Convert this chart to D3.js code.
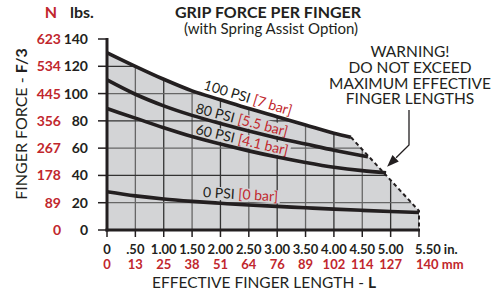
<!DOCTYPE html>
<html>
<head>
<meta charset="utf-8">
<script src="https://cdn.jsdelivr.net/npm/d3@7"></script>
<style>
  body { margin: 0; background: #fff; }
  svg { display: block; font-family: Lato, "Open Sans", sans-serif; }
</style>
</head>
<body>
<svg id="chart" width="494" height="290"></svg>
<script>
// axis ticks and labels
const inchTicks = [0, .5, 1, 1.5, 2, 2.5, 3, 3.5, 4, 4.5, 5, 5.5];
const inchLabels = ["0", ".50", "1.00", "1.50", "2.00", "2.50", "3.00", "3.50", "4.00", "4.50", "5.00", "5.50 in."];
const mmLabels = ["0", "13", "25", "38", "51", "64", "76", "89", "102", "114", "127", "140 mm"];
const lbsTicks = [0, 20, 40, 60, 80, 100, 120, 140];
const newtonLabels = ["0", "89", "178", "267", "356", "445", "534", "623"];

// curves (inches -> lbs)
const psi100X = [0, .5, 1, 1.5, 2, 2.5, 3, 3.5, 4, 4.3];
const psi100Y = [130, 120, 110.5, 102, 95.5, 89, 83, 77, 71, 68];
const psi80X = [0, .5, 1, 1.5, 2, 2.5, 3, 3.5, 4, 4.6];
const psi80Y = [110, 99.5, 91, 84, 78, 72.5, 67.5, 63, 58.5, 53.7];
const psi60X = [0, .5, 1, 1.5, 2, 2.5, 3, 3.5, 4, 4.5, 4.92];
const psi60Y = [89, 82, 75, 68.5, 63, 58, 53.5, 49.5, 46, 43.5, 42];
const psi0X = [0, .5, 1, 1.5, 2, 2.5, 3, 3.5, 4, 4.5, 5, 5.5];
const psi0Y = [28, 25, 22.7, 21, 19.6, 18.3, 17.3, 16.3, 15.3, 14.4, 13.6, 12.8];

// max effective finger length boundary
const limitX = [4.3, 5.5, 5.5];
const limitY = [68, 14, 0];

const seriesNames = ["100 PSI ", "80 PSI ", "60 PSI ", "0 PSI "];
const seriesBars = ["[7 bar]", "[5.5 bar]", "[4.1 bar]", "[0 bar]"];
const labelAt = [1.69, 1.55, 1.55, 1.69];

const RED = "#c1272d", INK = "#231f20", GRAY = "#d3d4d6";

const svg = d3.select("#chart");
const x = d3.scaleLinear().domain([0, 5.5]).range([107, 419]);
const y = d3.scaleLinear().domain([0, 140]).range([230, 39]);

const pts = (xs, ys) => xs.map((v, i) => [v, ys[i]]);
const series = [pts(psi100X, psi100Y), pts(psi80X, psi80Y), pts(psi60X, psi60Y), pts(psi0X, psi0Y)];
const limit = pts(limitX, limitY);

const line = d3.line().x(d => x(d[0])).y(d => y(d[1])).curve(d3.curveMonotoneX);
const straight = d3.line().x(d => x(d[0])).y(d => y(d[1]));

// gray region under the 100 PSI curve, closed by the limit line
const regionD = line(series[0]) + "L" + limit.slice(1).map(d => x(d[0]) + "," + y(d[1])).join("L")
  + "L" + x(0) + "," + y(0) + "Z";

svg.append("clipPath").attr("id", "clip").append("path").attr("d", regionD);
svg.append("path").attr("d", regionD).attr("fill", GRAY);

// grid clipped to the region
const grid = svg.append("g").attr("clip-path", "url(#clip)");
grid.selectAll(".vg").data(inchTicks.slice(1)).join("line")
  .attr("x1", d => x(d)).attr("x2", d => x(d))
  .attr("y1", y(0)).attr("y2", y(140))
  .attr("stroke", (d, i) => i % 2 ? "#333" : "#666").attr("stroke-width", 1.3);
grid.selectAll(".hg").data(lbsTicks.slice(1)).join("line")
  .attr("x1", x(0)).attr("x2", x(5.5))
  .attr("y1", d => y(d)).attr("y2", d => y(d))
  .attr("stroke", (d, i) => i % 2 ? "#333" : "#666").attr("stroke-width", 1.3);

// curve labels, drawn under the curves; a gray box hides the grid behind them
function valAt(s, v) {
  const i = d3.bisector(d => d[0]).right(s, v) - 1;
  const a = s[Math.max(0, Math.min(i, s.length - 2))], b = s[Math.max(1, Math.min(i + 1, s.length - 1))];
  return a[1] + (b[1] - a[1]) * (v - a[0]) / (b[0] - a[0]);
}
const lift = [5, 3.5, 3.5, 5];
series.forEach((s, i) => {
  const g = svg.append("g");
  const box = g.append("rect").attr("fill", i === 0 ? "none" : GRAY);
  const t = g.append("text").attr("font-size", 14).attr("fill", INK);
  t.append("tspan").text(seriesNames[i]);
  t.append("tspan").attr("fill", RED).text(seriesBars[i]);
  const len = t.node().getComputedTextLength();
  box.attr("x", -1).attr("y", -11).attr("width", len + 3).attr("height", 13);
  const x0 = labelAt[i], px0 = x(x0), py0 = y(valAt(s, x0));
  let ang = 0;
  for (let k = 0; k < 3; k++) {
    const x1 = x.invert(px0 + len * Math.cos(ang));
    ang = Math.atan2(y(valAt(s, x1)) - py0, x(x1) - px0);
  }
  g.attr("transform", `translate(${px0},${py0 - lift[i]}) rotate(${ang * 180 / Math.PI})`);
});

// dashed limit
svg.append("path").attr("d", straight(limit))
  .attr("fill", "none").attr("stroke", INK).attr("stroke-width", 2)
  .attr("stroke-dasharray", "4,3");

// curves
svg.selectAll(".curve").data(series).join("path")
  .attr("d", line).attr("fill", "none")
  .attr("stroke", INK).attr("stroke-width", 3.6).attr("stroke-linecap", "butt");

// axes
svg.append("line").attr("x1", x(0)).attr("x2", x(0)).attr("y1", y(140) - 1).attr("y2", y(0) + 1.5)
  .attr("stroke", INK).attr("stroke-width", 3);
svg.append("line").attr("x1", x(0) - 1.5).attr("x2", x(5.5) + 1).attr("y1", y(0)).attr("y2", y(0))
  .attr("stroke", INK).attr("stroke-width", 3);
svg.selectAll(".yt").data(lbsTicks).join("line")
  .attr("x1", x(0) - 9).attr("x2", x(0)).attr("y1", d => y(d)).attr("y2", d => y(d))
  .attr("stroke", INK).attr("stroke-width", 1.5);
svg.selectAll(".xt").data(inchTicks).join("line")
  .attr("x1", d => x(d)).attr("x2", d => x(d)).attr("y1", y(0)).attr("y2", y(0) + 7)
  .attr("stroke", INK).attr("stroke-width", 1.5);

svg.selectAll(".yl").data(lbsTicks).join("text")
  .attr("x", 88).attr("y", d => y(d) + 5).attr("text-anchor", "end")
  .attr("font-size", 14).attr("font-weight", 700).attr("fill", INK).text(d => d);
svg.selectAll(".nl").data(newtonLabels).join("text")
  .attr("x", 61).attr("y", (d, i) => y(lbsTicks[i]) + 5).attr("text-anchor", "end")
  .attr("font-size", 14).attr("font-weight", 700).attr("fill", RED).text(d => d);
svg.append("text").attr("x", 51).attr("y", 18).attr("text-anchor", "middle")
  .attr("font-size", 16).attr("font-weight", 700).attr("fill", RED).text("N");
svg.append("text").attr("x", 70).attr("y", 18)
  .attr("font-size", 16).attr("font-weight", 700).attr("fill", INK).text("lbs.");

svg.selectAll(".il").data(inchLabels).join("text")
  .attr("x", (d, i) => i === inchLabels.length - 1 ? x(inchTicks[i]) - 4 : x(inchTicks[i]))
  .attr("y", 253.5).attr("text-anchor", (d, i) => i === inchLabels.length - 1 ? "start" : "middle")
  .attr("font-size", 13).attr("font-weight", 700).attr("fill", INK).text(d => d);
svg.selectAll(".ml").data(mmLabels).join("text")
  .attr("x", (d, i) => i === mmLabels.length - 1 ? x(inchTicks[i]) - 3 : x(inchTicks[i]))
  .attr("y", 269).attr("text-anchor", (d, i) => i === mmLabels.length - 1 ? "start" : "middle")
  .attr("font-size", 13).attr("font-weight", 700).attr("fill", RED).text(d => d);

// axis titles
const xt = svg.append("text").attr("x", 264).attr("y", 287.5).attr("text-anchor", "middle")
  .attr("font-size", 15.5).attr("fill", INK);
xt.append("tspan").text("EFFECTIVE FINGER LENGTH - ");
xt.append("tspan").attr("font-weight", 700).text("L");
const yt = svg.append("text").attr("transform", "translate(27,124) rotate(-90)")
  .attr("text-anchor", "middle").attr("font-size", 16).attr("fill", INK);
yt.append("tspan").text("FINGER FORCE - ");
yt.append("tspan").attr("font-weight", 700).text("F/3");

// title
svg.append("text").attr("x", 268).attr("y", 17.5).attr("text-anchor", "middle")
  .attr("font-size", 16).attr("font-weight", 700).attr("fill", INK).text("GRIP FORCE PER FINGER");
svg.append("text").attr("x", 271).attr("y", 33.5).attr("text-anchor", "middle")
  .attr("font-size", 15).attr("fill", INK).text("(with Spring Assist Option)");

// warning
const warn = ["WARNING!", "DO NOT EXCEED", "MAXIMUM EFFECTIVE", "FINGER LENGTHS"];
svg.selectAll(".warn").data(warn).join("text")
  .attr("x", 410).attr("y", (d, i) => 57 + i * 15.8).attr("text-anchor", "middle")
  .attr("font-size", 15.5).attr("fill", INK).text(d => d);

const tipX = x(psi60X[psi60X.length - 1]) + 1, tipY = y(psi60Y[psi60Y.length - 1]) - 6;
svg.append("path").attr("d", `M409,110 L409,145 L${tipX + 9},${tipY - 9}`)
  .attr("fill", "none").attr("stroke", INK).attr("stroke-width", 1.3);
const ah = Math.atan2(tipY - 145, tipX - 409);
const L = 12, W = 4.5;
const bx = tipX - L * Math.cos(ah), by = tipY - L * Math.sin(ah);
svg.append("path")
  .attr("d", `M${tipX},${tipY} L${bx + W * Math.sin(ah)},${by - W * Math.cos(ah)} L${bx - W * Math.sin(ah)},${by + W * Math.cos(ah)} Z`)
  .attr("fill", INK);
</script>
</body>
</html>
